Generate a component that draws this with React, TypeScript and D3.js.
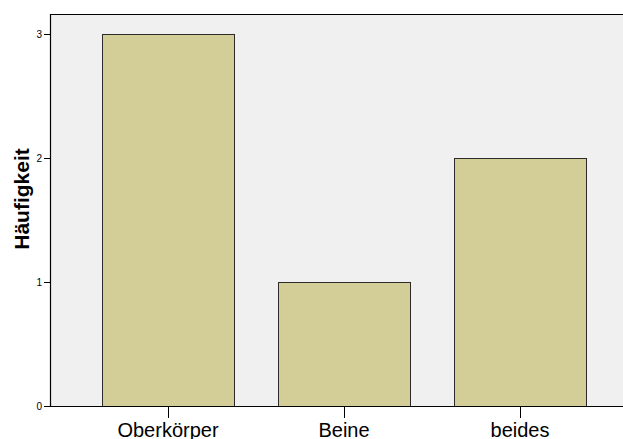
import React from "react";
import * as d3 from "d3";

const categories = ["Oberkörper", "Beine", "beides"];
const counts = [3, 1, 2];
const yTicks = [0, 1, 2, 3];

export default function App() {
  const W = 623, H = 439;
  const left = 50, top = 14, bottom = 406;
  const x = d3.scaleBand<string>().domain(categories).range([80, 608]).paddingInner(0.25).paddingOuter(0.125);
  const y = d3.scaleLinear().domain([0, 3]).range([bottom, 34]);
  return (
    <svg width={W} height={H} style={{ position: "absolute", left: 0, top: 0 }} fontFamily="Arial, 'Liberation Sans', sans-serif">
      <rect x={left} y={top} width={W - left + 10} height={bottom - top} fill="#f0f0f0" />
      {categories.map((c, i) => (
        <rect key={c} x={x(c)! + 0.5} y={y(counts[i]) + 0.5} width={x.bandwidth()} height={bottom - y(counts[i])} fill="#d3ce98" stroke="#2b2b2b" strokeWidth={1} />
      ))}
      <line x1={left} x2={W} y1={top + 0.5} y2={top + 0.5} stroke="#000" strokeWidth={1.2} />
      <line x1={left + 0.5} x2={left + 0.5} y1={top} y2={bottom} stroke="#000" strokeWidth={1.2} />
      <line x1={left} x2={W} y1={bottom + 0.5} y2={bottom + 0.5} stroke="#000" strokeWidth={1.2} />
      {yTicks.map(t => (
        <g key={t}>
          <line x1={44} x2={left} y1={y(t) + 0.5} y2={y(t) + 0.5} stroke="#000" />
          <text x={42} y={y(t) + 4} fontSize={10} textAnchor="end" fill="#000">{t}</text>
        </g>
      ))}
      {categories.map(c => {
        const cx = x(c)! + x.bandwidth() / 2;
        return (
          <g key={c}>
            <line x1={cx + 0.5} x2={cx + 0.5} y1={bottom} y2={418} stroke="#000" />
            <text x={cx} y={437} fontSize={20} textAnchor="middle" fill="#000">{c}</text>
          </g>
        );
      })}
      <text transform={`translate(29, 199) rotate(-90)`} fontSize={21} fontWeight="bold" textAnchor="middle" fill="#000">Häufigkeit</text>
    </svg>
  );
}
